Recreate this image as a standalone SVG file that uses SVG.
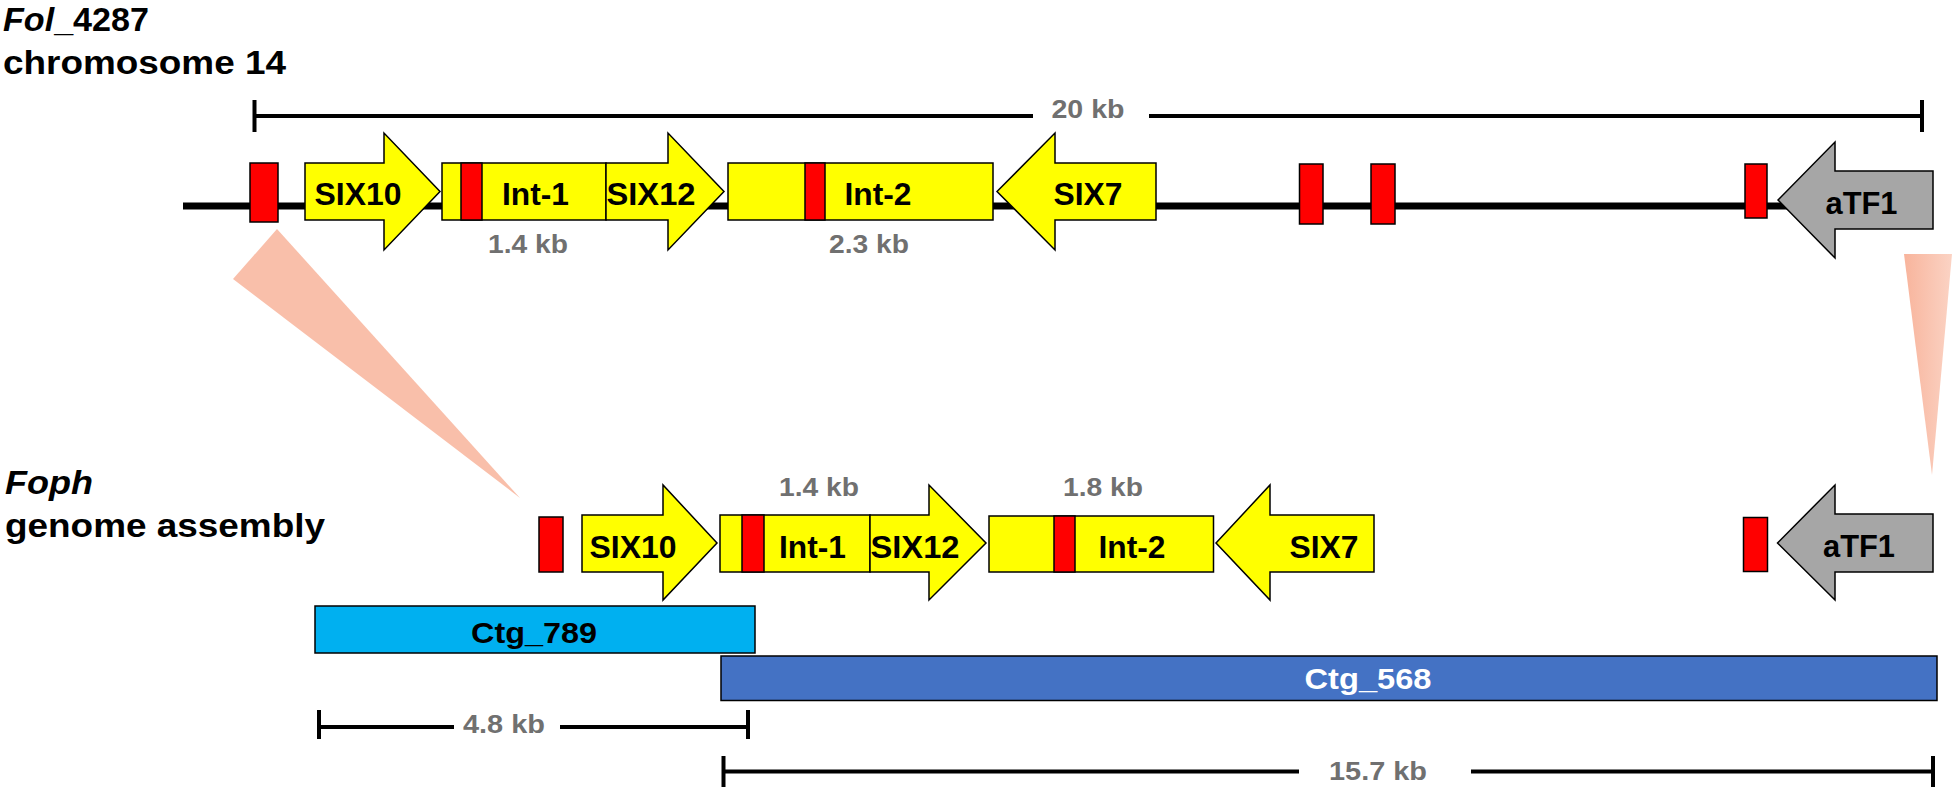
<svg xmlns="http://www.w3.org/2000/svg" width="1955" height="791" viewBox="0 0 1955 791">
<defs>
<linearGradient id="pinkR" x1="0" y1="0" x2="1" y2="0">
<stop offset="0" stop-color="#F8B49C"/>
<stop offset="1" stop-color="#FBD3C4"/>
</linearGradient>
<style>
.lbl{font-family:"Liberation Sans",Arial,sans-serif;font-weight:bold;font-size:34px;fill:#000}
.gl{font-family:"Liberation Sans",Arial,sans-serif;font-weight:bold;font-size:31px;fill:#000;text-anchor:middle}
.sz{font-family:"Liberation Sans",Arial,sans-serif;font-weight:bold;font-size:26px;fill:#707070;text-anchor:middle}
.ctg{font-family:"Liberation Sans",Arial,sans-serif;font-weight:bold;font-size:30px;text-anchor:middle}
.gene{fill:#FFFF00;stroke:#000;stroke-width:1.5}
.atf{fill:#A6A6A6;stroke:#000;stroke-width:1.5}
.red{fill:#FF0000;stroke:#000;stroke-width:1.5}
.bar{stroke:#000;stroke-width:4;fill:none}
.chr{stroke:#000;stroke-width:7}
.pink{fill:#F9BFAA}
</style>
</defs>
<rect width="1955" height="791" fill="#fff"/>

<g id="labels">
<text class="lbl" x="3" y="31" textLength="146" lengthAdjust="spacingAndGlyphs"><tspan font-style="italic">Fol</tspan>_4287</text>
<text class="lbl" x="3" y="74" textLength="283" lengthAdjust="spacingAndGlyphs">chromosome 14</text>
<text class="lbl" x="5" y="494" textLength="88" lengthAdjust="spacingAndGlyphs" font-style="italic">Foph</text>
<text class="lbl" x="5" y="537" textLength="320" lengthAdjust="spacingAndGlyphs">genome assembly</text>
</g>

<g id="connectors">
<polygon class="pink" points="277,229 233,279 520,498"/>
<polygon fill="url(#pinkR)" points="1904,254 1952,254 1932,475"/>
</g>

<g id="scale-20kb">
<line class="bar" x1="254.5" y1="116" x2="1033" y2="116"/>
<line class="bar" x1="1149" y1="116" x2="1922" y2="116"/>
<line class="bar" x1="254.5" y1="100" x2="254.5" y2="132"/>
<line class="bar" x1="1922" y1="100" x2="1922" y2="132"/>
<text class="sz" x="1088" y="118" textLength="73" lengthAdjust="spacingAndGlyphs">20 kb</text>
</g>

<g id="chromosome14">
<line class="chr" x1="183" y1="206" x2="1800" y2="206"/>
</g>

<g id="top-genes">
<g id="top-red1"><rect class="red" x="250" y="163" width="28" height="59"/></g>
<g id="top-SIX10"><polygon class="gene" points="305,163 384,163 384,133 440,191.5 384,250 384,220 305,220"/>
<text class="gl" x="358" y="205" textLength="87" lengthAdjust="spacingAndGlyphs">SIX10</text></g>
<g id="top-Int1"><rect class="gene" x="442" y="163" width="164" height="57"/>
<rect class="red" x="461" y="163" width="21" height="57"/>
<text class="gl" x="535.5" y="205" textLength="67" lengthAdjust="spacingAndGlyphs">Int-1</text>
<text class="sz" x="528" y="253" textLength="80" lengthAdjust="spacingAndGlyphs">1.4 kb</text></g>
<g id="top-SIX12"><polygon class="gene" points="606,163 668,163 668,133 724,191.5 668,250 668,220 606,220"/>
<text class="gl" x="651" y="205" textLength="89" lengthAdjust="spacingAndGlyphs">SIX12</text></g>
<g id="top-Int2"><rect class="gene" x="728" y="163" width="265" height="57"/>
<rect class="red" x="805" y="163" width="20" height="57"/>
<text class="gl" x="878" y="205" textLength="67" lengthAdjust="spacingAndGlyphs">Int-2</text>
<text class="sz" x="869" y="253" textLength="80" lengthAdjust="spacingAndGlyphs">2.3 kb</text></g>
<g id="top-SIX7"><polygon class="gene" points="997,191.5 1055,133 1055,163 1156,163 1156,220 1055,220 1055,250"/>
<text class="gl" x="1088" y="205" textLength="69" lengthAdjust="spacingAndGlyphs">SIX7</text></g>
<g id="top-red4"><rect class="red" x="1299.5" y="164" width="23.5" height="60"/></g>
<g id="top-red5"><rect class="red" x="1371" y="164" width="24" height="60"/></g>
<g id="top-red7"><rect class="red" x="1745" y="164" width="22" height="54"/></g>
<g id="top-aTF1"><polygon class="atf" points="1778,200 1835,142 1835,171 1933,171 1933,229 1835,229 1835,258"/>
<text class="gl" x="1861.5" y="214" textLength="72" lengthAdjust="spacingAndGlyphs">aTF1</text></g>
</g>

<g id="bottom-genes">
<g id="bot-redL"><rect class="red" x="539" y="517" width="24" height="55"/></g>
<g id="bot-SIX10"><polygon class="gene" points="582,515 663,515 663,485 717,543 663,600 663,572 582,572"/>
<text class="gl" x="633" y="558" textLength="87" lengthAdjust="spacingAndGlyphs">SIX10</text></g>
<g id="bot-Int1"><rect class="gene" x="720" y="515" width="150" height="57"/>
<rect class="red" x="742" y="515" width="22" height="57"/>
<text class="gl" x="812.5" y="558" textLength="67" lengthAdjust="spacingAndGlyphs">Int-1</text>
<text class="sz" x="819" y="496" textLength="80" lengthAdjust="spacingAndGlyphs">1.4 kb</text></g>
<g id="bot-SIX12"><polygon class="gene" points="870,515 929,515 929,485 986,543 929,600 929,572 870,572"/>
<text class="gl" x="915" y="558" textLength="89" lengthAdjust="spacingAndGlyphs">SIX12</text></g>
<g id="bot-Int2"><rect class="gene" x="989" y="516" width="224.5" height="56"/>
<rect class="red" x="1054" y="516" width="21" height="56"/>
<text class="gl" x="1132" y="558" textLength="67" lengthAdjust="spacingAndGlyphs">Int-2</text>
<text class="sz" x="1103" y="496" textLength="80" lengthAdjust="spacingAndGlyphs">1.8 kb</text></g>
<g id="bot-SIX7"><polygon class="gene" points="1216,543 1270,485 1270,515 1374,515 1374,572 1270,572 1270,600"/>
<text class="gl" x="1324" y="558" textLength="69" lengthAdjust="spacingAndGlyphs">SIX7</text></g>
<g id="bot-redR"><rect class="red" x="1743.5" y="517.5" width="24" height="54"/></g>
<g id="bot-aTF1"><polygon class="atf" points="1777.5,543 1835,485 1835,514 1933,514 1933,572 1835,572 1835,600"/>
<text class="gl" x="1859" y="557" textLength="72" lengthAdjust="spacingAndGlyphs">aTF1</text></g>
</g>

<g id="contigs">
<g id="ctg789"><rect x="315" y="606" width="440" height="47" fill="#00B0F0" stroke="#000" stroke-width="1.5"/>
<text class="ctg" x="534" y="643" fill="#000" textLength="126" lengthAdjust="spacingAndGlyphs">Ctg_789</text></g>
<g id="ctg568"><rect x="721" y="656" width="1216" height="44.5" fill="#4472C4" stroke="#000" stroke-width="1.5"/>
<text class="ctg" x="1368" y="689" fill="#fff" textLength="127" lengthAdjust="spacingAndGlyphs">Ctg_568</text></g>
</g>

<g id="scale-4-8kb">
<line class="bar" x1="319" y1="727" x2="454" y2="727"/>
<line class="bar" x1="560" y1="727" x2="748" y2="727"/>
<line class="bar" x1="319" y1="710" x2="319" y2="739"/>
<line class="bar" x1="748" y1="710" x2="748" y2="739"/>
<text class="sz" x="504" y="733" textLength="82" lengthAdjust="spacingAndGlyphs">4.8 kb</text>
</g>

<g id="scale-15-7kb">
<line class="bar" x1="723.5" y1="771.5" x2="1299" y2="771.5"/>
<line class="bar" x1="1471" y1="771.5" x2="1933" y2="771.5"/>
<line class="bar" x1="723.5" y1="756" x2="723.5" y2="787"/>
<line class="bar" x1="1933" y1="756" x2="1933" y2="787"/>
<text class="sz" x="1378" y="780" textLength="98" lengthAdjust="spacingAndGlyphs">15.7 kb</text>
</g>
</svg>
